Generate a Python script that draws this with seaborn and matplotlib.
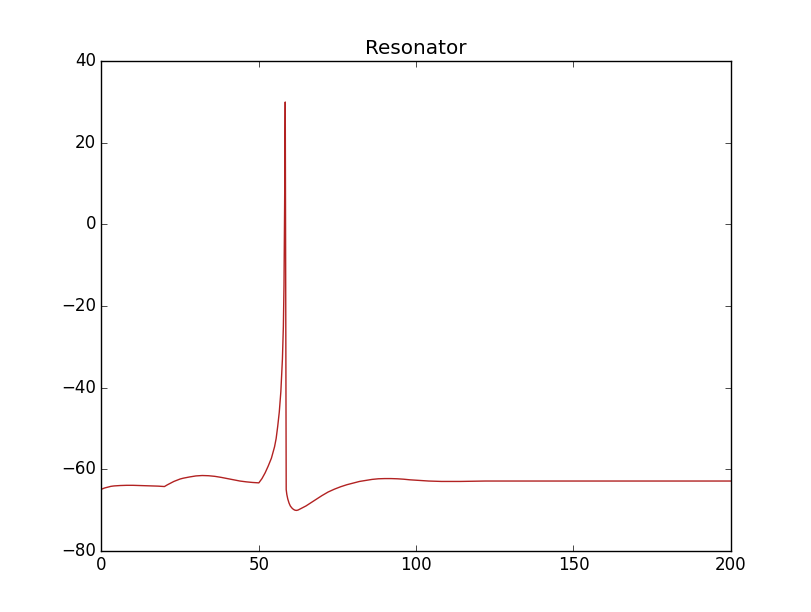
import matplotlib
matplotlib.use("Agg")
import matplotlib.pyplot as plt
import seaborn as sns
import pandas as pd

time_ms = [0, 1, 2, 3, 4, 6, 8, 10, 12, 14, 16, 18, 20,
           21, 22, 23, 24, 25, 26, 28, 30, 32, 34, 36, 38, 40, 42, 44, 46, 48, 50,
           51, 52, 53, 54, 55, 55.5, 56, 56.5, 57, 57.5, 57.8, 58.0, 58.2, 58.4,
           58.7, 58.9, 59.2, 59.6, 60, 60.5, 61, 61.5, 62, 62.5, 63, 64, 65, 66,
           67, 68, 70, 72, 74, 76, 78, 80, 82, 84, 86, 88, 90, 92, 94, 96, 98,
           100, 102, 104, 106, 108, 110, 114, 118, 122, 130, 150, 200]
voltage = [-64.9, -64.6, -64.4, -64.2, -64.1, -64.0, -63.95, -63.95, -64.0,
           -64.05, -64.1, -64.15, -64.25,
           -63.8, -63.4, -63.0, -62.7, -62.4, -62.2, -61.9, -61.65, -61.55,
           -61.6, -61.75, -62.0, -62.3, -62.6, -62.9, -63.1, -63.25, -63.35,
           -62.3, -60.9, -59.2, -57.3, -54.5, -52.5, -49.5, -46.0, -41.0, -33.0,
           -25.0, -15.0, 5.0, 30.0,
           -65.0, -66.2, -67.3, -68.3, -69.0, -69.5, -69.85, -70.05, -70.1,
           -70.0, -69.8, -69.4, -69.0, -68.5, -68.0, -67.5, -66.5, -65.6,
           -64.9, -64.3, -63.8, -63.4, -63.0, -62.75, -62.5, -62.35, -62.3,
           -62.3, -62.35, -62.45, -62.6, -62.7, -62.8, -62.9, -62.95, -63.0,
           -63.0, -63.0, -62.95, -62.9, -62.9, -62.9, -62.9]

df = pd.DataFrame({"t": time_ms, "v": voltage})

plt.style.use("classic")
fig, ax = plt.subplots(figsize=(8.12, 6.12), dpi=100)
fig.patch.set_facecolor("white")
sns.lineplot(data=df, x="t", y="v", ax=ax, color="#b22222", linewidth=1.0,
             sort=False, estimator=None)
ax.set_xlim(0, 200)
ax.set_ylim(-80, 40)
ax.set_xlabel("")
ax.set_ylabel("")
ax.set_title("Resonator")
fig.savefig("out.png", dpi=100, facecolor="white")
